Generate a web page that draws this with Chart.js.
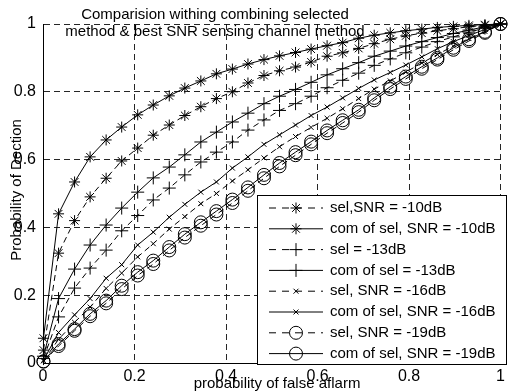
<!DOCTYPE html>
<html>
<head>
<meta charset="utf-8">
<script src="https://cdn.jsdelivr.net/npm/chart.js@4/dist/chart.umd.min.js"></script>
<style>
html,body{margin:0;padding:0;background:#fff;}
canvas{display:block;}
</style>
</head>
<body>
<canvas id="c" width="508" height="391"></canvas>
<script>
// probability of false alarm (x values)
const pfa = [0.001, 0.034, 0.069, 0.103, 0.138, 0.172, 0.207, 0.241, 0.276, 0.310,
             0.345, 0.379, 0.414, 0.448, 0.483, 0.517, 0.552, 0.586, 0.621, 0.655,
             0.690, 0.724, 0.759, 0.793, 0.828, 0.862, 0.897, 0.931, 0.966, 1.0];

const selSnr10    = [.038,.324,.42,.49,.545,.596,.634,.672,.702,.73,.756,.78,.80,.826,.848,.862,.873,.888,.905,.915,.928,.942,.955,.965,.973,.98,.986,.992,.996,1];
const comSelSnr10 = [.073,.44,.534,.608,.658,.696,.732,.761,.788,.811,.832,.853,.867,.882,.895,.906,.916,.926,.936,.945,.958,.967,.974,.98,.985,.99,.993,.996,.998,1];
const selSnr13    = [.013,.136,.221,.28,.333,.39,.435,.481,.516,.555,.593,.622,.652,.687,.717,.745,.765,.787,.812,.834,.855,.878,.897,.915,.932,.948,.962,.976,.988,1];
const comSelSnr13 = [.02,.19,.277,.348,.407,.457,.504,.546,.578,.614,.652,.681,.711,.737,.765,.787,.807,.828,.85,.868,.886,.905,.92,.935,.948,.96,.972,.982,.992,1];
const selSnr16    = [.006,.07,.12,.165,.22,.265,.313,.352,.395,.432,.47,.5,.537,.57,.605,.638,.668,.695,.722,.75,.78,.808,.832,.858,.885,.91,.935,.957,.978,1];
const comSelSnr16 = [.008,.09,.142,.19,.25,.29,.348,.386,.43,.468,.504,.534,.575,.608,.645,.673,.702,.73,.755,.782,.81,.835,.857,.879,.903,.927,.948,.966,.984,1];
const selSnr19    = [.004,.05,.095,.138,.176,.218,.258,.292,.332,.37,.405,.438,.472,.508,.545,.58,.613,.645,.678,.708,.74,.775,.808,.838,.868,.895,.924,.95,.974,1];
const comSelSnr19 = [.005,.056,.1,.145,.184,.228,.268,.302,.342,.38,.415,.448,.482,.518,.555,.59,.622,.653,.686,.716,.747,.782,.815,.845,.874,.9,.93,.955,.977,1];

const seriesLabels = ['sel,SNR = -10dB','com of sel, SNR = -10dB','sel = -13dB','com of sel = -13dB',
                      'sel, SNR = -16dB','com of sel, SNR = -16dB','sel, SNR = -19dB','com of sel, SNR = -19dB'];
const seriesValues = [selSnr10, comSelSnr10, selSnr13, comSelSnr13, selSnr16, comSelSnr16, selSnr19, comSelSnr19];
const markerStyles = ['star','star','cross','cross','crossRot','crossRot','circle','circle'];
const markerSizes  = [5.5,5.5,6.5,6.5,3.5,3.5,6.5,6.5];

const titleLines = ['Comparision withing combining selected', 'method & best SNR sensing channel method'];
const xTitle = 'probability of false aflarm';
const yTitle = 'Probability of Dection';
const tickValues = [0, 0.2, 0.4, 0.6, 0.8, 1];

const FONT = '"Liberation Sans", Arial, Helvetica, sans-serif';

const datasets = seriesValues.map((vals, i) => ({
  label: seriesLabels[i],
  data: pfa.map((x, j) => ({x: x, y: vals[j]})),
  borderColor: '#000',
  backgroundColor: 'rgba(0,0,0,0)',
  borderWidth: 1,
  borderDash: i % 2 === 0 ? [6,4] : [],
  pointStyle: markerStyles[i],
  pointRadius: markerSizes[i],
  pointBorderWidth: 1,
  pointBorderColor: '#000',
  pointBackgroundColor: 'rgba(0,0,0,0)',
  tension: 0,
  fill: false,
  clip: 10
}));

function drawMarker(ctx, style, r, x, y) {
  if (Chart.helpers && Chart.helpers.drawPoint) {
    Chart.helpers.drawPoint(ctx, {pointStyle: style, radius: r, borderWidth: 1, rotation: 0}, x, y);
  }
}

const decor = {
  id: 'decor',
  afterDraw(chart) {
    const ctx = chart.ctx;
    ctx.save();
    // titles
    ctx.fillStyle = '#000';
    ctx.textAlign = 'center';
    ctx.textBaseline = 'middle';
    ctx.font = '15px ' + FONT;
    ctx.fillText(titleLines[0], 215, 15);
    ctx.fillText(titleLines[1], 215, 32);
    ctx.font = '15px ' + FONT;
    ctx.fillText(xTitle, 277, 384);
    ctx.save();
    ctx.translate(17, 190);
    ctx.rotate(-Math.PI / 2);
    ctx.fillText(yTitle, 0, 0);
    ctx.restore();

    // legend inside plot
    const lx = 257, ly = 195, lw = 250, lh = 170;
    ctx.fillStyle = '#fff';
    ctx.fillRect(lx, ly, lw, lh);
    ctx.strokeStyle = '#000';
    ctx.lineWidth = 1;
    ctx.setLineDash([]);
    ctx.strokeRect(lx + 0.5, ly + 0.5, lw - 1, lh - 1);
    chart.data.datasets.forEach((ds, i) => {
      const y = ly + 13 + i * 20.8;
      ctx.strokeStyle = '#000';
      ctx.lineWidth = 1;
      ctx.setLineDash(ds.borderDash.length ? [7,6] : []);
      ctx.beginPath();
      ctx.moveTo(269, y);
      ctx.lineTo(323, y);
      ctx.stroke();
      ctx.setLineDash([]);
      ctx.fillStyle = 'rgba(0,0,0,0)';
      drawMarker(ctx, ds.pointStyle, ds.pointRadius, 296, y);
      ctx.fillStyle = '#000';
      ctx.font = '15px ' + FONT;
      ctx.textAlign = 'left';
      ctx.textBaseline = 'middle';
      ctx.fillText(ds.label, 330, y);
    });
    ctx.restore();
  }
};

const axisCommon = {
  type: 'linear',
  min: 0,
  max: 1,
  grid: { color: 'rgba(0,0,0,0.85)', lineWidth: 1, drawTicks: false },
  border: { display: true, color: '#000', width: 1, dash: [6,4] },
};

new Chart(document.getElementById('c'), {
  type: 'line',
  data: { datasets: datasets },
  options: {
    responsive: false,
    animation: false,
    devicePixelRatio: 1,
    layout: { padding: { top: 24, right: 3, left: 0, bottom: 0 } },
    plugins: { legend: { display: false }, title: { display: false }, tooltip: { enabled: false } },
    scales: {
      x: Object.assign({}, axisCommon, {
        afterBuildTicks: s => { s.ticks = tickValues.map(v => ({value: v})); },
        ticks: { color: '#000', font: { size: 16, family: FONT }, padding: 4, maxRotation: 0,
                 callback: v => String(Math.round(v * 10) / 10) },
        afterFit: s => { s.height = 28; s.paddingLeft = 0; s.paddingRight = 0; }
      }),
      y: Object.assign({}, axisCommon, {
        afterBuildTicks: s => { s.ticks = tickValues.map(v => ({value: v})); },
        ticks: { color: '#000', font: { size: 16, family: FONT }, padding: 7,
                 callback: v => String(Math.round(v * 10) / 10) },
        afterFit: s => { s.width = 43; s.paddingTop = 0; s.paddingBottom = 0; }
      })
    }
  },
  plugins: [decor]
});
</script>
</body>
</html>
